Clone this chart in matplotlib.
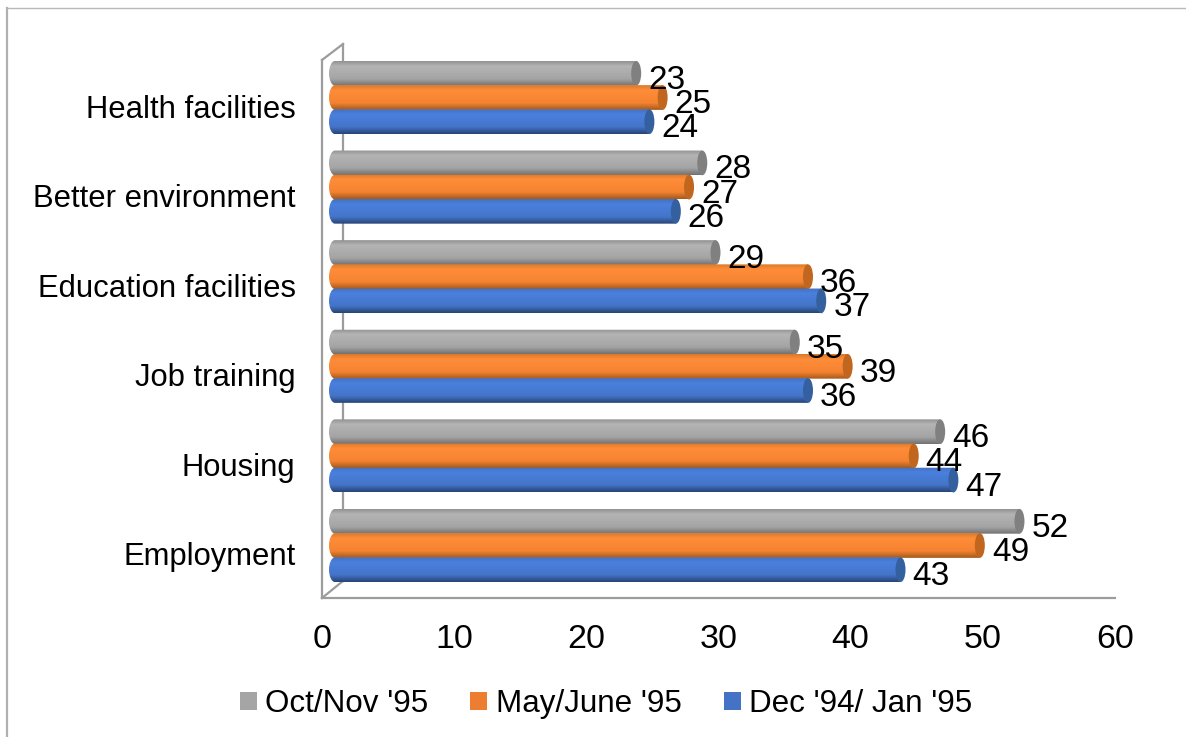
import numpy as np
import matplotlib
matplotlib.use('Agg')
import matplotlib.pyplot as plt
from matplotlib.colors import LinearSegmentedColormap
from matplotlib.lines import Line2D
from matplotlib.patches import Ellipse, PathPatch, Patch
from matplotlib.path import Path
from matplotlib.transforms import Affine2D

# Data ---------------------------------------------
categories = ['Employment', 'Housing', 'Job training', 'Education facilities',
              'Better environment', 'Health facilities']
oct_nov = [52, 46, 35, 29, 28, 23]
may_june = [49, 44, 39, 36, 27, 25]
dec_jan = [43, 47, 36, 37, 26, 24]
series_names = ["Oct/Nov '95", "May/June '95", "Dec '94/ Jan '95"]
x_ticks = [0, 10, 20, 30, 40, 50, 60]

# General Style ------------------------------------
FONT = 'Liberation Sans'
W, H = 1186, 737
WALL = '#9c9c9c'
fig = plt.figure(figsize=(W / 100, H / 100), dpi=100)

# axes box in pixels, front floor corner is x=0
left_px, right_px, bottom_px, top_px = 322, 1115, 598, 44
ax = fig.add_axes([left_px / W, 1 - bottom_px / H,
                   (right_px - left_px) / W, (bottom_px - top_px) / H])
px_x = (right_px - left_px) / 60
px_y = 89.6

# (legend colour, top edge, highlight, low shade, bottom edge, end cap)
styles = [
    ('#a5a5a5', '#929292', '#b4b4b4', '#a4a4a4', '#727272', '#808080'),
    ('#ed7d31', '#d87a2a', '#ff8c38', '#f58331', '#a55a1c', '#c0661f'),
    ('#4472c4', '#4470bc', '#4a80de', '#4474c8', '#284475', '#34609f'),
]
all_values = [oct_nov, may_june, dec_jan]
offsets = [0.27, 0, -0.27]
bar_h = 0.276
start = 7 / px_x      # bars sit 7px behind the front wall
cap_w = 10 / px_x
tip_shift = 1.15      # depth of the 3d bars, in axis units


def cylinder(y, value, style, z):
    x0, x1 = start, value + tip_shift - cap_w / 2
    y0, y1 = y - bar_h / 2, y + bar_h / 2
    ym = y
    rx = 6 / px_x
    k = 0.55
    ry = bar_h / 2
    # rounded at the left, straight at the right where the cap goes
    verts = [(x1, y0), (x0 + rx, y0),
             (x0 + rx - k * rx, y0), (x0, ym - k * ry), (x0, ym),
             (x0, ym + k * ry), (x0 + rx - k * rx, y1), (x0 + rx, y1),
             (x1, y1), (x1, y0)]
    codes = [Path.MOVETO, Path.LINETO,
             Path.CURVE4, Path.CURVE4, Path.CURVE4,
             Path.CURVE4, Path.CURVE4, Path.CURVE4,
             Path.LINETO, Path.CLOSEPOLY]
    clip = PathPatch(Path(verts, codes), fc='none', ec='none', transform=ax.transData)
    ax.add_patch(clip)
    cmap = LinearSegmentedColormap.from_list(
        'c', [(0, style[1]), (0.2, style[2]), (0.72, style[3]), (1, style[4])])
    grad = np.linspace(0, 1, 64).reshape(-1, 1)
    im = ax.imshow(grad, cmap=cmap, extent=[x0, x1, y0, y1], origin='upper',
                   aspect='auto', zorder=z, interpolation='bilinear')
    im.set_clip_path(clip)
    ax.add_patch(Ellipse((x1, y), cap_w, bar_h, fc=style[5], ec='none', zorder=z + 0.1))


for s_i, (values, off, style) in enumerate(zip(all_values, offsets, styles)):
    for i, v in enumerate(values):
        cylinder(i + off, v, style, 3 + s_i)
        ax.annotate(str(v), xy=(v + tip_shift, i + off), xytext=(7, -7), textcoords='offset pixels',
                    ha='left', va='center', fontsize=24, family=FONT, color='black', zorder=8)

ax.set_xlim(0, 60)
ax.set_ylim(-(bottom_px - 545.5) / px_y, (545.5 - top_px) / px_y)

# Axis options -------------------------------------
for s in ['top', 'right', 'left', 'bottom']:
    ax.spines[s].set_visible(False)
ax.patch.set_alpha(0)
ax.set_xticks(x_ticks)
ax.set_xticklabels([str(t) for t in x_ticks], fontsize=24.5, family=FONT)
ax.set_yticks(range(len(categories)))
ax.set_yticklabels(categories, fontsize=22.3, family=FONT)
ax.tick_params(axis='x', length=0, pad=19)
ax.tick_params(axis='y', length=0, pad=19)
# category labels sit a bit under the middle bar
for lab in ax.get_yticklabels():
    lab.set_transform(lab.get_transform() + Affine2D().translate(0, -8.5))

# Chart walls and picture frame, in pixels -----------
def wall(xs, ys, lw=1.6, color=WALL):
    fig.add_artist(Line2D([x / W for x in xs], [1 - y / H for y in ys],
                          color=color, lw=lw, zorder=-1))


wall([322, 1115], [598, 598])
wall([322, 322], [60, 598])
wall([343, 343], [44, 581])
wall([322, 343], [60, 44])
wall([322, 343], [598, 581])
wall([7, 7], [8, 737], lw=1.6, color='#b0b0b0')
wall([7, 1186], [8, 8], lw=1.0, color='#b8b8b8')

# Legend -------------------------------------------
handles = [Patch(fc=s[0], ec='none', label=n) for s, n in zip(styles, series_names)]
fig.legend(handles=handles, loc='center', bbox_to_anchor=(606 / W, 1 - 704 / H), ncols=3,
           frameon=False, prop={'family': FONT, 'size': 22.6},
           handlelength=0.54, handleheight=0.54, handletextpad=0.27, columnspacing=1.34)

fig.savefig('out.png', dpi=100)
